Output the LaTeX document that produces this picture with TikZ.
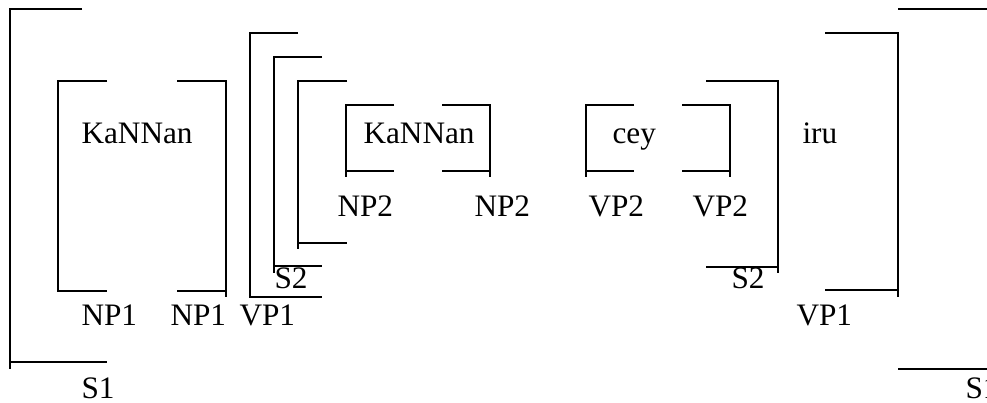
\documentclass[tikz,border=0pt]{standalone}
\usepackage{fontspec}
\setmainfont{Liberation Serif}
\usepackage{tikz}
\usetikzlibrary{positioning}
\tikzset{
  brk/.style={line width=0.8pt,line cap=butt},
  word/.style={inner sep=0pt,anchor=base west,font=\fontsize{12.5}{14}\selectfont},
  lbl/.style={inner sep=0pt,anchor=base west,font=\fontsize{12.5}{14}\selectfont}
}
\begin{document}
\begin{tikzpicture}[x=0.4pt,y=-0.4pt]
  \useasboundingbox (0,0) rectangle (987,402);
  \clip (0,0) rectangle (987,402);
  % S1
  \draw[brk] (82,9) -| (10,369);
  \draw[brk] (10,362) -- (107,362);
  \draw[brk] (898,9) -- (987,9);
  \draw[brk] (898,369) -- (987,369);
  % NP1
  \draw[brk] (107,81) -| (58,291) -- (107,291);
  \draw[brk] (177,81) -| (226,297);
  \draw[brk] (177,291) -- (226,291);
  % VP1
  \draw[brk] (298,33) -| (250,297) -- (322,297);
  \draw[brk] (825,33) -| (898,297);
  \draw[brk] (825,290) -- (898,290);
  % S2
  \draw[brk] (322,57) -| (274,273);
  \draw[brk] (274,266) -- (322,266);
  \draw[brk] (347,81) -| (298,249);
  \draw[brk] (298,243) -- (347,243);
  \draw[brk] (706,81) -| (778,273);
  \draw[brk] (706,267) -- (778,267);
  % NP2 / VP2
  \draw[brk] (394,105) -| (346,177);
  \draw[brk] (346,171) -- (394,171);
  \draw[brk] (442,105) -| (490,177);
  \draw[brk] (442,171) -- (490,171);
  \draw[brk] (634,105) -| (586,177);
  \draw[brk] (586,171) -- (634,171);
  \draw[brk] (682,105) -| (730,177);
  \draw[brk] (682,171) -- (730,171);

  \node[word] (kannan1) at (81,143) {KaNNan};
  \node[word] (kannan2) at (363,143) {KaNNan};
  \node[word] (cey) at (612,143) {cey};
  \node[word] (iru) at (802,143) {iru};

  \node[lbl] (np1a) at (81,325) {NP1};
  \node[lbl] (np1b) at (170,325) {NP1};
  \node[lbl] (vp1a) at (239,325) {VP1};
  \node[lbl] (vp1b) at (796,325) {VP1};
  \node[lbl] (np2a) at (337,216) {NP2};
  \node[lbl] (np2b) at (474,216) {NP2};
  \node[lbl] (vp2a) at (588,216) {VP2};
  \node[lbl] (vp2b) at (692,216) {VP2};
  \node[lbl] (s2a) at (274,288) {S2};
  \node[lbl] (s2b) at (731,288) {S2};
  \node[lbl] (s1a) at (81,398) {S1};
  \node[lbl] (s1b) at (965,398) {S1};
\end{tikzpicture}
\end{document}
